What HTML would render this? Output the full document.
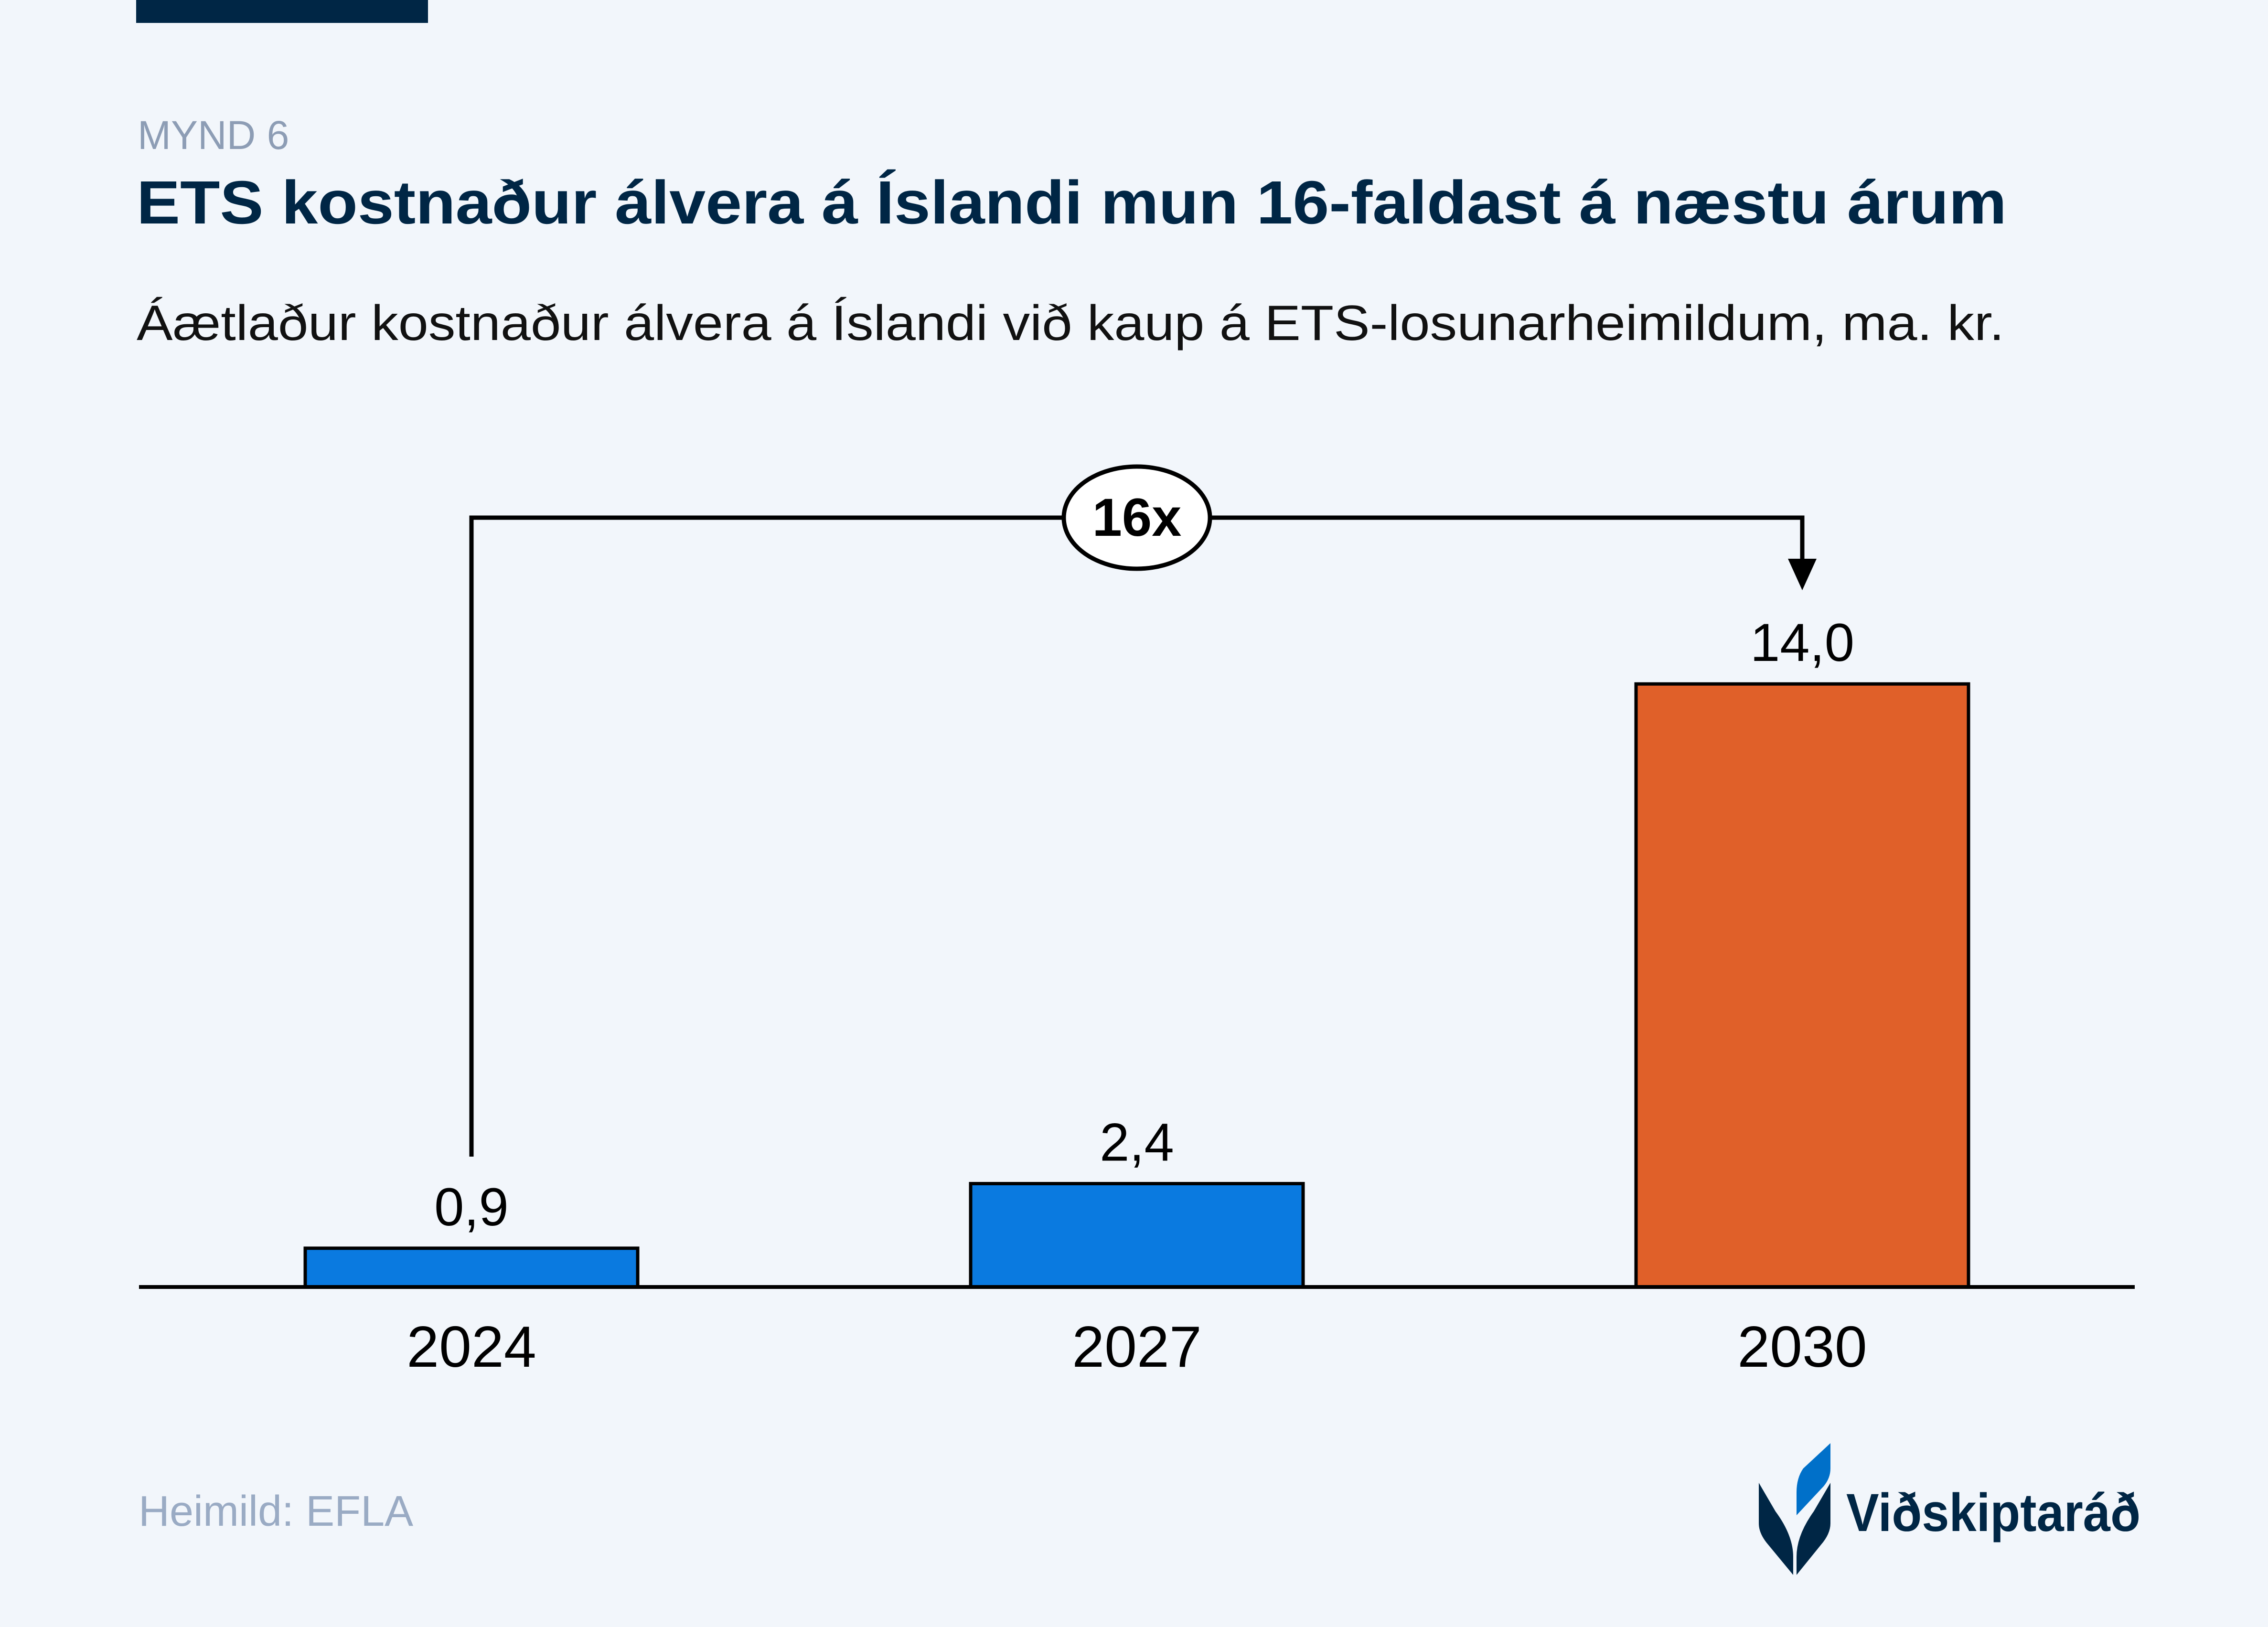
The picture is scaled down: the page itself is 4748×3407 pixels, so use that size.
<!DOCTYPE html>
<html><head><meta charset="utf-8"><style>
html,body{margin:0;padding:0;background:#f2f6fb;}
svg{display:block;font-family:"Liberation Sans",sans-serif;}
</style></head><body>
<svg id="chart" width="4748" height="3407" viewBox="0 0 4748 3407" xmlns="http://www.w3.org/2000/svg">
<rect x="0" y="0" width="4748" height="3407" fill="#f2f6fb"/>
<rect x="285" y="0" width="611" height="48" fill="#002645"/>
<text x="288" y="312" font-size="84" fill="#8d9db5">MYND 6</text>
<text x="286" y="468" font-size="128" font-weight="bold" fill="#002645" textLength="3915" lengthAdjust="spacingAndGlyphs">ETS kostnaður álvera á Íslandi mun 16-faldast á næstu árum</text>
<text x="286" y="712" font-size="104" fill="#111" textLength="3910" lengthAdjust="spacingAndGlyphs">Áætlaður kostnaður álvera á Íslandi við kaup á ETS-losunarheimildum, ma. kr.</text>
<g id="plot"></g>
<g>
<polyline points="987,2422 987,1084 3773,1084 3773,1180" fill="none" stroke="#000" stroke-width="9"/>
<polygon points="3743,1170 3803,1170 3773,1236" fill="#000"/>
<ellipse cx="2380" cy="1084" rx="153" ry="107" fill="#fff" stroke="#000" stroke-width="9"/>
<text x="2380" y="1122" font-size="112" font-weight="bold" text-anchor="middle" fill="#000">16x</text>
</g>
<text x="290" y="3195" font-size="90" fill="#9aabc4">Heimild: EFLA</text>
<g>
<path d="M3682,3105 L3717,3165 Q3754,3215 3754,3260 L3754,3298 L3702,3235 Q3682,3212 3682,3190 Z" fill="#002645"/>
<path d="M3832,3105 L3797,3165 Q3761,3215 3761,3260 L3761,3298 L3812,3235 Q3832,3212 3832,3190 Z" fill="#002645"/>
<path d="M3832,3022 L3832,3075 Q3832,3095 3818,3112 L3761,3173 L3761,3125 Q3761,3095 3775,3075 Z" fill="#0070c9"/>
<text x="3865" y="3206" font-size="112" font-weight="bold" fill="#002645" textLength="616" lengthAdjust="spacingAndGlyphs">Viðskiptaráð</text>
</g>
</svg>
<script>
const categories = ["2024", "2027", "2030"];
const values = [0.9, 2.4, 14.0];
const valueLabels = ["0,9", "2,4", "14,0"];
const barColors = ["#0a7ae0", "#0a7ae0", "#e06029"];

const NS = "http://www.w3.org/2000/svg";
const plot = document.getElementById("plot");
const baseY = 2695, pxPerUnit = 90.2;
const firstCenter = 987, step = 1393, barW = 696;
function xScale(i){ return firstCenter + i * step; }
function yScale(v){ return baseY - v * pxPerUnit; }

categories.forEach((c, i) => {
  const x = xScale(i), y = yScale(values[i]);
  const r = document.createElementNS(NS, "rect");
  r.setAttribute("x", x - barW/2); r.setAttribute("y", y);
  r.setAttribute("width", barW); r.setAttribute("height", baseY - y);
  r.setAttribute("fill", barColors[i]); r.setAttribute("stroke", "#000"); r.setAttribute("stroke-width", "7");
  
  
  plot.appendChild(r);
  const t = document.createElementNS(NS, "text");
  t.setAttribute("x", x); t.setAttribute("y", y - 48);
  t.setAttribute("font-size", "112"); t.setAttribute("text-anchor", "middle"); t.setAttribute("fill", "#000");
  t.textContent = valueLabels[i];
  
  
  plot.appendChild(t);
  const l = document.createElementNS(NS, "text");
  l.setAttribute("x", x); l.setAttribute("y", 2862);
  l.setAttribute("font-size", "122"); l.setAttribute("text-anchor", "middle"); l.setAttribute("fill", "#000");
  l.textContent = c;
  
  
  plot.appendChild(l);
});
const axis = document.createElementNS(NS, "line");
axis.setAttribute("x1", 291); axis.setAttribute("x2", 4469);
axis.setAttribute("y1", baseY); axis.setAttribute("y2", baseY);
axis.setAttribute("stroke", "#000"); axis.setAttribute("stroke-width", "8");


plot.appendChild(axis);
</script>
</body></html>
